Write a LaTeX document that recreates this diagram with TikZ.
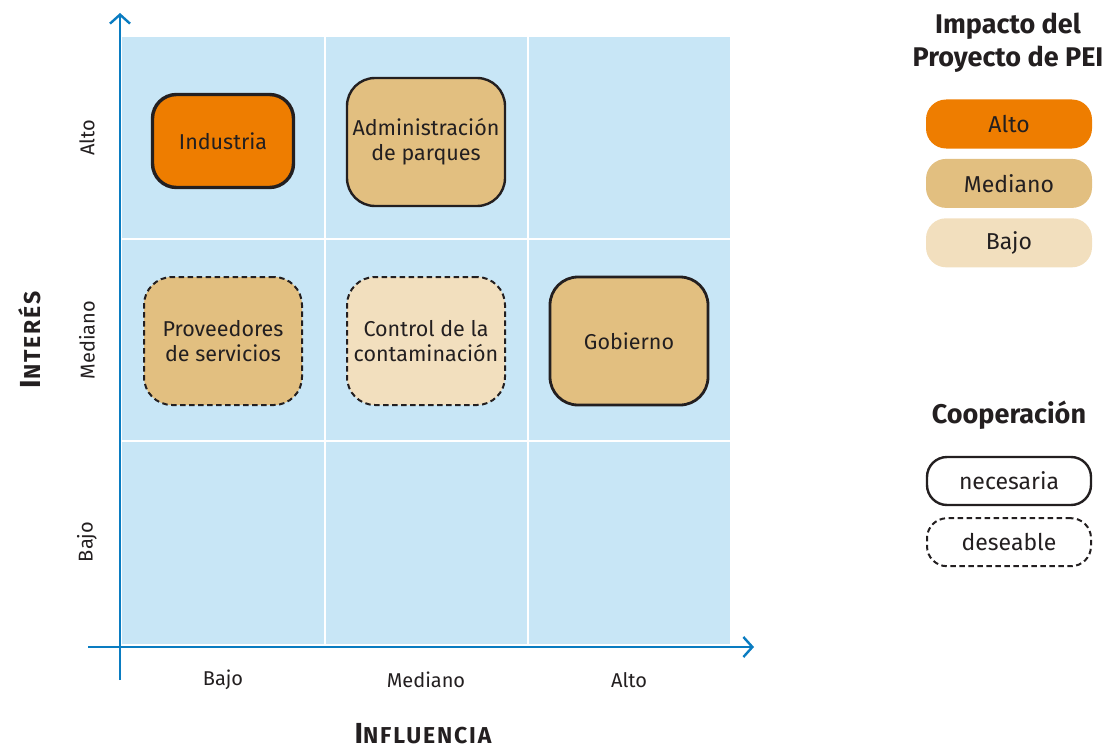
\documentclass[tikz,border=0pt]{standalone}
\usepackage{fontspec}
\setmainfont{Fira Sans}
\usepackage{tikz}
\usepackage{xcolor}
\usetikzlibrary{arrows.meta,positioning}
\definecolor{ejeazul}{RGB}{10,124,193}
\definecolor{fondoazul}{RGB}{200,230,246}
\definecolor{impactoalto}{RGB}{238,125,0}
\definecolor{impactomedio}{RGB}{226,191,128}
\definecolor{impactobajo}{RGB}{242,223,190}
\definecolor{textogris}{RGB}{35,31,32}

\begin{document}
\begin{tikzpicture}[x=1pt,y=-1pt,
    actor/.style={rounded corners=24pt, align=center, text=textogris, inner sep=0pt,
      font=\fontsize{21.5}{25}\selectfont},
    necesaria/.style={draw=textogris, line width=2.4pt},
    deseable/.style={draw=textogris, line width=2pt, dash pattern=on 5.5pt off 3.5pt},
    leyenda/.style={rounded corners=20pt, minimum width=166pt, minimum height=49pt,
      text=textogris, font=\fontsize{23}{26}\selectfont},
    titulo/.style={align=center, text=textogris, font=\fontsize{27}{33}\selectfont\bfseries},
    nivel/.style={text=textogris, font=\fontsize{20}{22}\selectfont},
    eje/.style={ejeazul, line width=2.4pt, -{Straight Barb[length=9pt,width=20pt]}}]
  \useasboundingbox (0,0) rectangle (1109,752);

  % Fondo de la matriz
  \fill[fondoazul] (122,37) rectangle (730,644);
  \foreach \x in {325,528}
    \draw[white, line width=2.5pt] (\x,37) -- (\x,644);
  \foreach \y in {239,441}
    \draw[white, line width=2.5pt] (122,\y) -- (730,\y);

  % Ejes
  \coordinate (origenx) at (88,647);
  \coordinate (finx) at (754,647);
  \coordinate (origeny) at (120,680);
  \coordinate (finy) at (120,13);
  \draw[eje] (origenx) -- (finx);
  \draw[eje] (origeny) -- (finy);

  % Niveles de los ejes
  \foreach \i/\nombre in {0/Bajo, 1/Mediano, 2/Alto} {
    \node[nivel] (nivelx\i) at (223+203*\i,680) {\nombre};
    \node[nivel, rotate=90] (nively\i) at (87,542-202*\i) {\nombre};
  }
  \node[text=textogris, font=\bfseries\addfontfeature{LetterSpace=8}, rotate=90] (interes) at (30,340)
    {\fontsize{29}{29}\selectfont I\fontsize{23}{23}\selectfont NTERÉS};
  \node[text=textogris, font=\bfseries\addfontfeature{LetterSpace=8}] (influencia) at (423,734)
    {\fontsize{29}{29}\selectfont I\fontsize{23}{23}\selectfont NFLUENCIA};

  % Actores
  \node[actor, fill=impactoalto, draw=textogris, line width=3.4pt,
    minimum width=141pt, minimum height=93pt] (industria) at (223,141) {Industria};
  \node[actor, necesaria, fill=impactomedio, rounded corners=28pt,
    minimum width=158pt, minimum height=128pt] (parques) at (426,142)
    {Administración\\de parques};
  \node[actor, deseable, fill=impactomedio, rounded corners=28pt,
    minimum width=158pt, minimum height=128pt] (proveedores) at (223,341)
    {Proveedores\\de servicios};
  \node[actor, deseable, fill=impactobajo, rounded corners=28pt,
    minimum width=158pt, minimum height=128pt] (control) at (426,341)
    {Control de la\\contaminación};
  \node[actor, necesaria, fill=impactomedio, line width=2.8pt, rounded corners=28pt,
    minimum width=158pt, minimum height=128pt] (gobierno) at (629,341) {Gobierno};

  % Leyenda
  \node[titulo] (impacto) at (1008,43) {Impacto del\\Proyecto de PEI};
  \node[leyenda, fill=impactoalto] (alto) at (1009,124) {Alto};
  \node[leyenda, fill=impactomedio, below=10pt of alto] (mediano) {Mediano};
  \node[leyenda, fill=impactobajo, below=10pt of mediano] (bajo) {Bajo};

  \node[titulo] (cooperacion) at (1009,415) {Cooperación};
  \node[leyenda, necesaria, minimum width=164pt, minimum height=48pt] (nec) at (1009,481) {necesaria};
  \node[leyenda, deseable, minimum width=164pt, minimum height=48pt, below=11pt of nec] (des) {deseable};
\end{tikzpicture}
\end{document}
